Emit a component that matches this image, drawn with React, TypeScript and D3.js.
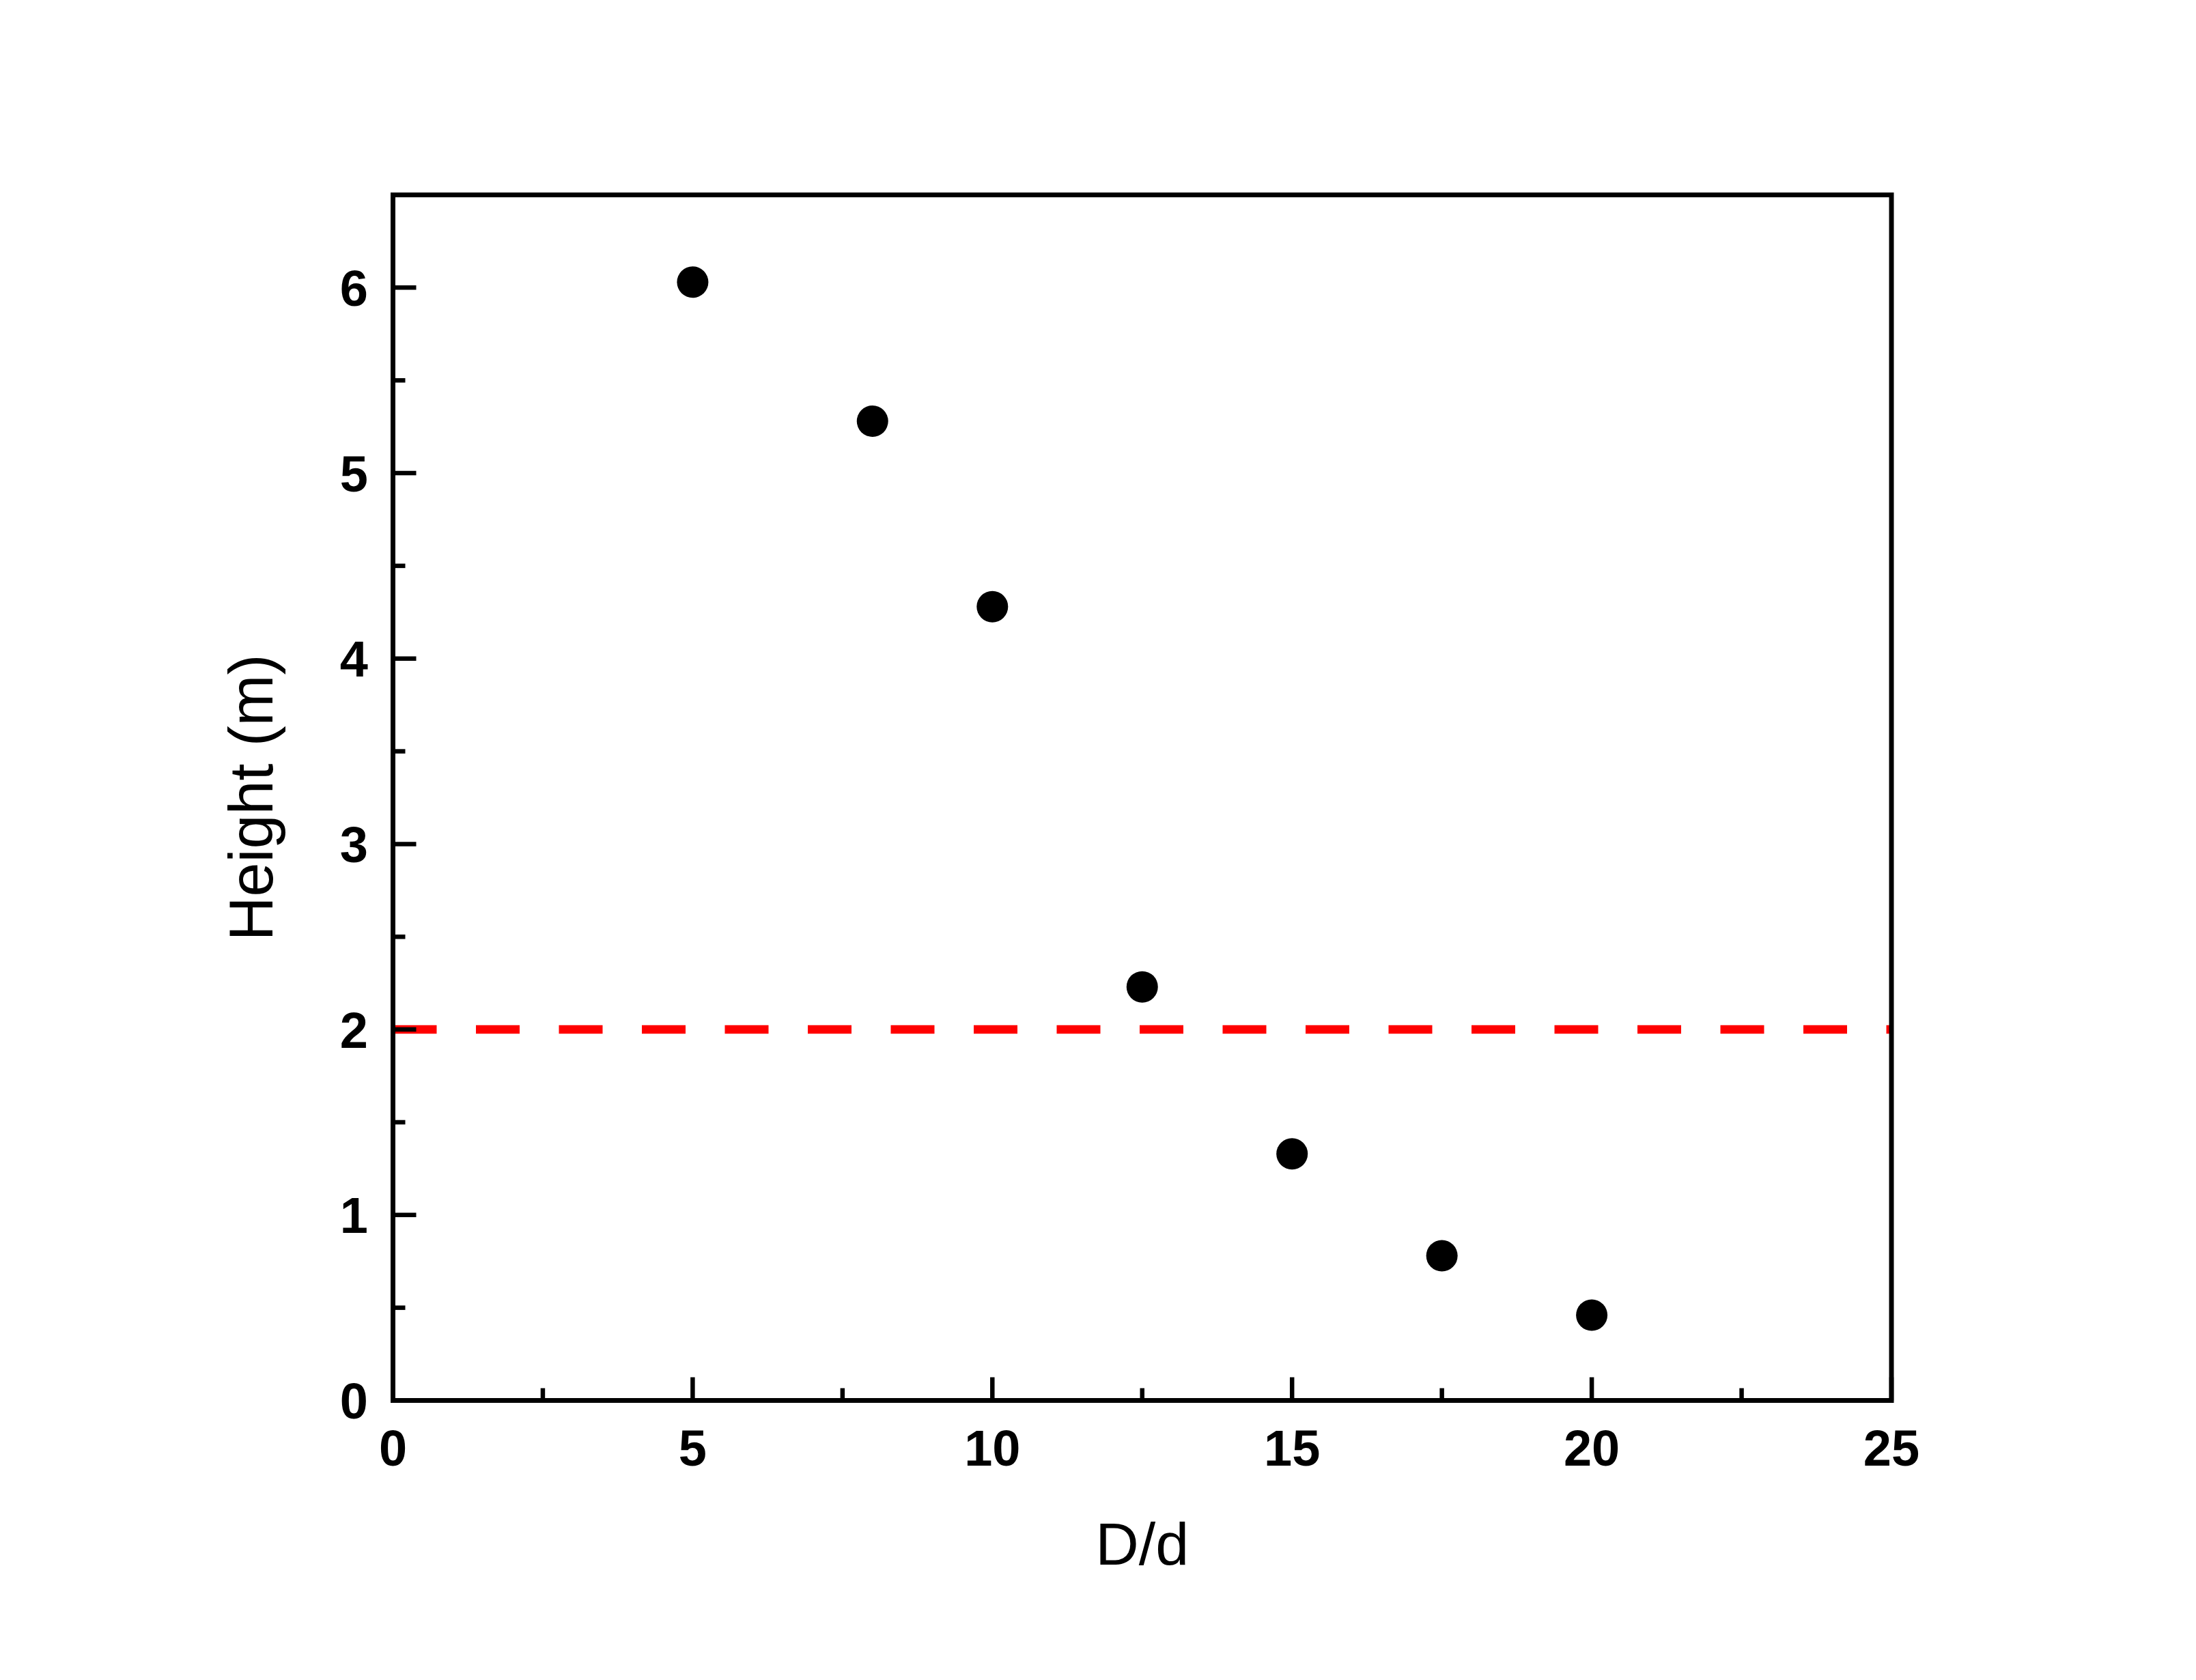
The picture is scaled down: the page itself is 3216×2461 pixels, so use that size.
import React from "react";
import * as d3 from "d3";

const xValues = [5, 8, 10, 12.5, 15, 17.5, 20];
const heightValues = [6.03, 5.28, 4.28, 2.23, 1.33, 0.78, 0.46];
const xTicks = [0, 5, 10, 15, 20, 25];
const yTicks = [0, 1, 2, 3, 4, 5, 6];
const thresholdValue = 2;
const xLabel = "D/d";
const yLabel = "Height (m)";

const W = 3216;
const H = 2461;
const left = 575.5;
const right = 2770;
const top = 285.5;
const bottom = 2051.5;

export default function App() {
  const x = d3.scaleLinear().domain([0, 25]).range([left, right]);
  const y = d3.scaleLinear().domain([0, 6.5]).range([bottom, top]);
  const xMinor = d3.range(2.5, 25, 5);
  const yMinor = d3.range(0.5, 6.5, 1);
  const font = "'Liberation Sans', Arial, sans-serif";
  const majorLen = 34;
  const minorLen = 18;
  return (
    <svg
      width={W}
      height={H}
      style={{ position: "absolute", left: 0, top: 0, background: "#fff" }}
    >
      <rect x={0} y={0} width={W} height={H} fill="#fff" />
      <line
        x1={x(0)}
        x2={x(25)}
        y1={y(thresholdValue)}
        y2={y(thresholdValue)}
        stroke="#ff0000"
        strokeWidth={12.5}
        strokeDasharray="64 57.5"
      />
      {xValues.map((v, i) => (
        <circle key={i} cx={x(v)} cy={y(heightValues[i])} r={23} fill="#000" />
      ))}
      {xTicks.map((t) => (
        <line key={"xt" + t} x1={x(t)} x2={x(t)} y1={bottom} y2={bottom - majorLen} stroke="#000" strokeWidth={6.5} />
      ))}
      {xMinor.map((t) => (
        <line key={"xm" + t} x1={x(t)} x2={x(t)} y1={bottom} y2={bottom - minorLen} stroke="#000" strokeWidth={6.5} />
      ))}
      {yTicks.map((t) => (
        <line key={"yt" + t} x1={left} x2={left + majorLen} y1={y(t)} y2={y(t)} stroke="#000" strokeWidth={6.5} />
      ))}
      {yMinor.map((t) => (
        <line key={"ym" + t} x1={left} x2={left + minorLen} y1={y(t)} y2={y(t)} stroke="#000" strokeWidth={6.5} />
      ))}
      <rect
        x={left}
        y={top}
        width={right - left}
        height={bottom - top}
        fill="none"
        stroke="#000"
        strokeWidth={7}
      />
      {xTicks.map((t) => (
        <text
          key={"xl" + t}
          x={x(t)}
          y={2147}
          textAnchor="middle"
          fontFamily={font}
          fontWeight="bold"
          fontSize={74}
          fill="#000"
        >
          {t}
        </text>
      ))}
      {yTicks.map((t) => (
        <text
          key={"yl" + t}
          x={539}
          y={y(t)}
          dy="0.36em"
          textAnchor="end"
          fontFamily={font}
          fontWeight="bold"
          fontSize={74}
          fill="#000"
        >
          {t}
        </text>
      ))}
      <text
        x={(left + right) / 2}
        y={2292}
        textAnchor="middle"
        fontFamily={font}
        fontSize={88}
        fill="#000"
      >
        {xLabel}
      </text>
      <text
        transform={`translate(399, ${(top + bottom) / 2}) rotate(-90)`}
        textAnchor="middle"
        fontFamily={font}
        fontSize={90}
        fill="#000"
      >
        {yLabel}
      </text>
    </svg>
  );
}
